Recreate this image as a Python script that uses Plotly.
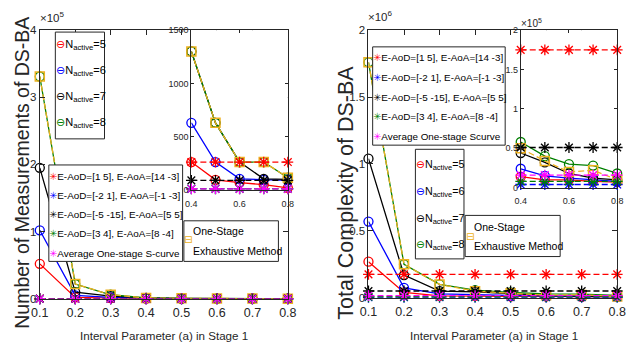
import plotly.graph_objects as go

W, H = 633, 356
SANS = "Liberation Sans, Arial, Helvetica, sans-serif"
GLYPH = "Liberation Sans, DejaVu Sans, sans-serif"
AXC = "#262626"

# ---------------- data ----------------
x_vals = [0.1, 0.2, 0.3, 0.4, 0.5, 0.6, 0.7, 0.8]
x_ticklabels = ["0.1", "0.2", "0.3", "0.4", "0.5", "0.6", "0.7", "0.8"]
inset_from = 3  # insets show a >= 0.4

# Left: Number of Measurements of DS-BA
meas_n5 = [52000, 2000, 1000, 262, 95, 70, 50, 20]
meas_n6 = [102000, 5000, 2000, 630, 262, 104, 95, 90]
meas_n7 = [195000, 10000, 4000, 1300, 630, 262, 104, 100]
meas_n8 = [331000, 22000, 6000, 1300, 630, 262, 262, 115]
meas_exh = [331000, 22000, 6000, 1300, 630, 262, 262, 115]
meas_aod1 = [262, 262, 262, 262, 262, 262, 262, 262]
meas_aod2 = [12, 12, 12, 12, 12, 12, 12, 12]
meas_aod3 = [90, 90, 90, 90, 90, 90, 90, 90]
meas_aod4 = [10, 10, 10, 10, 10, 10, 10, 10]
meas_avg = [10, 10, 10, 10, 10, 10, 10, 10]

# Right: Total Complexity of DS-BA
comp_n5 = [270000, 40000, 15000, 14000, 10000, 10000, 8000, 7000]
comp_n6 = [570000, 75000, 30000, 24000, 15000, 12000, 10000, 8000]
comp_n7 = [1040000, 170000, 50000, 44000, 32000, 18000, 12000, 10000]
comp_n8 = [1760000, 250000, 100000, 58000, 40000, 30000, 28000, 18000]
comp_exh = [1760000, 250000, 100000, 50000, 34000, 20000, 22000, 10000]
comp_aod1 = [175000, 175000, 175000, 175000, 175000, 175000, 175000, 175000]
comp_aod2 = [4000, 4000, 4000, 4000, 4000, 4000, 4000, 4000]
comp_aod3 = [51000, 51000, 51000, 51000, 51000, 51000, 51000, 51000]
comp_aod4 = [8000, 8000, 8000, 8000, 8000, 8000, 8000, 8000]
comp_avg = [16000, 16000, 16000, 16000, 16000, 16000, 16000, 16000]

n_names = ["N<sub>active</sub>=5", "N<sub>active</sub>=6",
           "N<sub>active</sub>=7", "N<sub>active</sub>=8"]
aod_names_left = ["E-AoD=[1 5], E-AoA=[14 -3]", "E-AoD=[-2 1], E-AoA=[-1 -3]",
                  "E-AoD=[-5 -15], E-AoA=[5 5]", "E-AoD=[3 4], E-AoA=[8 -4]",
                  "Average One-stage S-curve"]
aod_names_right = ["E-AoD=[1 5], E-AoA=[14 -3]", "E-AoD=[-2 1], E-AoA=[-1 -3]",
                   "E-AoD=[-5 -15], E-AoA=[5 5]", "E-AoD=[3 4], E-AoA=[8 -4]",
                   "Average One-stage Scurve"]
exh_lines = ["One-Stage", "Exhaustive Method"]

n_colors = ["#FF0000", "#0000FF", "#000000", "#008000"]
aod_colors = ["#FF0000", "#0000FF", "#000000", "#008000", "#FF00FF"]
exh_color = "#EDB120"

left_main_yticks = [0, 100000, 200000, 300000, 400000]
left_main_ylabels = ["0", "1", "2", "3", "4"]
left_inset_yticks = [0, 500, 1000, 1500]
right_main_yticks = [0, 500000, 1000000, 1500000, 2000000]
right_main_ylabels = ["0", "0.5", "1", "1.5", "2"]
right_inset_yticks = [0, 50000, 100000, 150000, 200000]
right_inset_ylabels = ["0", "0.5", "1", "1.5", "2"]
inset_xticks = [0.4, 0.6, 0.8]
inset_xlabels = ["0.4", "0.6", "0.8"]


def px(x):
    return x / W


def py(y):
    return 1 - y / H


fig = go.Figure()
DASH = "6px,3px"


def add_panel(main_ax, inset_ax, n_series, exh, aod_series, aod_names, tag):
    for axes, start in ((main_ax, 0), (inset_ax, inset_from)):
        xa, ya = axes
        for k, (vals, name) in enumerate(zip(n_series, n_names)):
            fig.add_trace(go.Scatter(
                x=x_vals[start:], y=vals[start:], name=name, mode="lines+markers",
                xaxis=xa, yaxis=ya, legendgroup=f"{tag}n{k}", showlegend=False,
                cliponaxis=False,
                line=dict(color=n_colors[k], width=1.3),
                marker=dict(symbol="circle-open", size=9, color=n_colors[k],
                            line=dict(width=1.3, color=n_colors[k]))))
        fig.add_trace(go.Scatter(
            x=x_vals[start:], y=exh[start:], name=" ".join(exh_lines),
            mode="lines+markers", xaxis=xa, yaxis=ya, legendgroup=f"{tag}exh",
            showlegend=False, cliponaxis=False,
            line=dict(color=exh_color, width=1.3, dash=DASH),
            marker=dict(symbol="square-open", size=9, color=exh_color,
                        line=dict(width=1.5, color=exh_color))))
        for k, (vals, name) in enumerate(zip(aod_series, aod_names)):
            fig.add_trace(go.Scatter(
                x=x_vals[start:], y=vals[start:], name=name, mode="lines+markers",
                xaxis=xa, yaxis=ya, legendgroup=f"{tag}a{k}", showlegend=False,
                cliponaxis=False,
                line=dict(color=aod_colors[k], width=1.3, dash=DASH),
                marker=dict(symbol="asterisk-open", size=9, color=aod_colors[k],
                            line=dict(width=1.3, color=aod_colors[k]))))


add_panel(("x", "y"), ("x2", "y2"),
          [meas_n5, meas_n6, meas_n7, meas_n8], meas_exh,
          [meas_aod1, meas_aod2, meas_aod3, meas_aod4, meas_avg], aod_names_left, "L")
add_panel(("x3", "y3"), ("x4", "y4"),
          [comp_n5, comp_n6, comp_n7, comp_n8], comp_exh,
          [comp_aod1, comp_aod2, comp_aod3, comp_aod4, comp_avg], aod_names_right, "R")

axis_common = dict(showline=True, linecolor=AXC, linewidth=1, mirror="allticks",
                   ticks="inside", tickcolor=AXC, tickwidth=1, showgrid=False,
                   zeroline=False)
MAIN_XTF = dict(family=SANS, size=12.5, color=AXC)
MAIN_YTF = dict(family=SANS, size=11.5, color=AXC)
INSET_TF = dict(family=SANS, size=9, color=AXC)

# panel geometry in pixels: (left, right, top, bottom)
LM = (31.7, 287, 25, 303)
LI = (187.7, 287, 25, 190.4)
RM = (370, 626, 25, 302)
RI = (526.7, 626, 25, 188)


def dom(box):
    x0, x1, yt, yb = box
    return [px(x0), px(x1)], [py(yb), py(yt)]


d = dom(LM)
fig.update_layout(
    xaxis=dict(axis_common, domain=d[0], anchor="y", range=[0.1, 0.8],
               tickvals=x_vals, ticktext=x_ticklabels, ticklen=5, tickfont=MAIN_XTF,
               ticklabelstandoff=2),
    yaxis=dict(axis_common, domain=d[1], anchor="x", range=[0, 400000],
               tickvals=left_main_yticks, ticktext=left_main_ylabels, ticklen=5,
               tickfont=MAIN_YTF))
d = dom(LI)
fig.update_layout(
    xaxis2=dict(axis_common, domain=d[0], anchor="y2", range=[0.4, 0.8],
                tickvals=inset_xticks, ticktext=inset_xlabels, ticklen=3,
                tickfont=INSET_TF, ticklabelstandoff=5),
    yaxis2=dict(axis_common, domain=d[1], anchor="x2", range=[0, 1500],
                tickvals=left_inset_yticks,
                ticktext=[str(v) for v in left_inset_yticks], ticklen=3,
                tickfont=INSET_TF))
d = dom(RM)
fig.update_layout(
    xaxis3=dict(axis_common, domain=d[0], anchor="y3", range=[0.1, 0.8],
                tickvals=x_vals, ticktext=x_ticklabels, ticklen=5, tickfont=MAIN_XTF,
                ticklabelstandoff=2),
    yaxis3=dict(axis_common, domain=d[1], anchor="x3", range=[0, 2000000],
                tickvals=right_main_yticks, ticktext=right_main_ylabels, ticklen=5,
                tickfont=MAIN_YTF))
d = dom(RI)
fig.update_layout(
    xaxis4=dict(axis_common, domain=d[0], anchor="y4", range=[0.4, 0.8],
                tickvals=inset_xticks, ticktext=inset_xlabels, ticklen=3,
                tickfont=INSET_TF, ticklabelstandoff=5),
    yaxis4=dict(axis_common, domain=d[1], anchor="x4", range=[0, 200000],
                tickvals=right_inset_yticks, ticktext=right_inset_ylabels, ticklen=3,
                tickfont=INSET_TF))

# white backgrounds for the insets (inside inset subplot, under its traces)
for xr, yr in (("x2", "y2"), ("x4", "y4")):
    fig.add_shape(type="rect", xref=f"{xr} domain", yref=f"{yr} domain",
                  x0=0, x1=1, y0=0, y1=1, fillcolor="white",
                  line=dict(width=0), layer="below")

annos = []


def legend_box(x0, y0, x1, y1):
    fig.add_shape(type="rect", xref="paper", yref="paper",
                  x0=px(x0), x1=px(x1), y0=py(y1), y1=py(y0),
                  fillcolor="white", line=dict(color=AXC, width=1), layer="above")


def legend_entry(x, y, glyph, color, text, size):
    annos.append(dict(
        text=f'<span style="color:{color}">{glyph}</span>{text}',
        x=px(x), y=py(y), xanchor="left", yanchor="middle",
        font=dict(family=GLYPH, size=size, color="#000000")))


# ---- left panel legends ----
legend_box(47.7, 27, 98.3, 137.5)
for k, yy in enumerate([40, 67, 94, 121]):
    legend_entry(48.3, yy, "⊖", n_colors[k], n_names[k], 11)

legend_box(41, 164.5, 178.7, 264.3)
for k, yy in enumerate([176.5, 196.3, 216.1, 235.9, 255.7]):
    legend_entry(41.5, yy, "✳", aod_colors[k], aod_names_left[k], 9.9)

legend_box(180, 222.3, 277.3, 264.3)
annos.append(dict(text="⊟", x=px(180.4), y=py(241.5), xanchor="left",
                  yanchor="middle", font=dict(family=GLYPH, size=10.5, color=exh_color)))
annos.append(dict(text=exh_lines[0], x=px(189.5), y=py(233.3), xanchor="left",
                  yanchor="middle", font=dict(family=SANS, size=10.5, color="#000")))
annos.append(dict(text=exh_lines[1], x=px(189.5), y=py(253.3), xanchor="left",
                  yanchor="middle", font=dict(family=SANS, size=10.5, color="#000")))

# ---- right panel legends ----
legend_box(374.3, 42.3, 510.7, 144)
for k, yy in enumerate([53.8, 74.1, 94.4, 114.7, 135]):
    legend_entry(374.8, yy, "✳", aod_colors[k], aod_names_right[k], 9.9)

legend_box(418.3, 148.3, 468.3, 261.7)
for k, yy in enumerate([165, 193, 220, 247]):
    legend_entry(418.8, yy, "⊖", n_colors[k], n_names[k], 10.7)

legend_box(469.5, 216.7, 567.3, 259.3)
annos.append(dict(text="⊟", x=px(469.9), y=py(238.3), xanchor="left",
                  yanchor="middle", font=dict(family=GLYPH, size=10.5, color=exh_color)))
annos.append(dict(text=exh_lines[0], x=px(478.8), y=py(228.3), xanchor="left",
                  yanchor="middle", font=dict(family=SANS, size=10.5, color="#000")))
annos.append(dict(text=exh_lines[1], x=px(478.8), y=py(248.3), xanchor="left",
                  yanchor="middle", font=dict(family=SANS, size=10.5, color="#000")))

# ---- titles and exponent labels ----
annos += [
    dict(text="Number of Measurements of DS-BA", x=px(14), y=py(173), textangle=-90,
         xanchor="center", yanchor="middle",
         font=dict(family=SANS, size=19.5, color=AXC)),
    dict(text="Total Complexity of DS-BA", x=px(347), y=py(193), textangle=-90,
         xanchor="center", yanchor="middle",
         font=dict(family=SANS, size=21.5, color=AXC)),
    dict(text="Interval Parameter (a) in Stage 1", x=px(160), y=py(341),
         xanchor="center", yanchor="middle",
         font=dict(family=SANS, size=11.6, color=AXC)),
    dict(text="Interval Parameter (a) in Stage 1", x=px(499), y=py(341),
         xanchor="center", yanchor="middle",
         font=dict(family=SANS, size=11.6, color=AXC)),
    dict(text="×10<sup>5</sup>", x=px(32), y=py(19), xanchor="left", yanchor="bottom",
         font=dict(family=SANS, size=11.5, color=AXC)),
    dict(text="×10<sup>6</sup>", x=px(369), y=py(18), xanchor="left", yanchor="bottom",
         font=dict(family=SANS, size=11.5, color=AXC)),
    dict(text="×10<sup>5</sup>", x=px(526.5), y=py(24), xanchor="left", yanchor="bottom",
         font=dict(family=SANS, size=10, color=AXC)),
]
for a in annos:
    a.update(xref="paper", yref="paper", showarrow=False, borderpad=0, borderwidth=0)
fig.update_layout(annotations=annos)

fig.update_layout(width=W, height=H, autosize=False, showlegend=False,
                  margin=dict(l=0, r=0, t=0, b=0),
                  paper_bgcolor="white", plot_bgcolor="white")

# remove the browser's default 8px body margin so the figure fills the window
fig.write_html("out.html", config={"displayModeBar": False},
               post_script="document.body.style.margin='0';document.body.style.padding='0';")
